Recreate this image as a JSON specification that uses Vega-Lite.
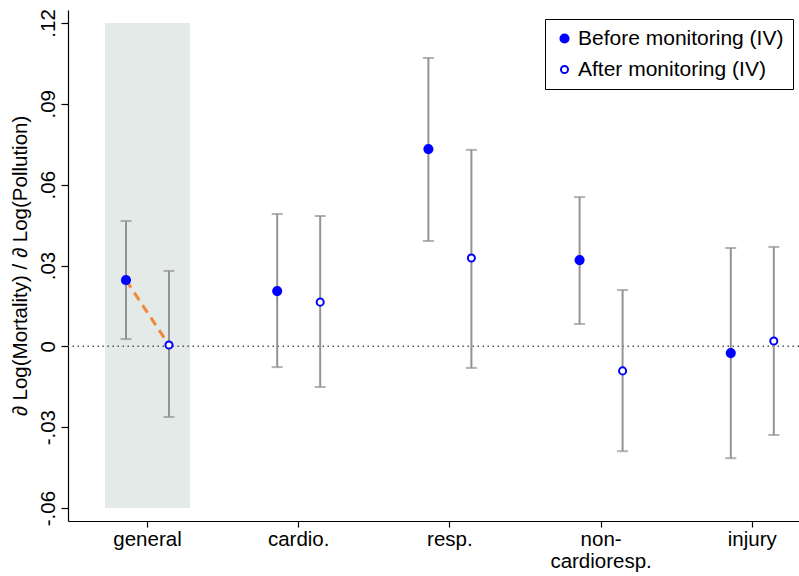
{
  "$schema": "https://vega.github.io/schema/vega-lite/v6.json",
  "width": 731,
  "height": 511,
  "autosize": {"type": "none"},
  "padding": {"left": 68, "top": 10, "right": 0, "bottom": 55},
  "background": "white",
  "config": {
    "view": {"stroke": null},
    "font": "Liberation Sans",
    "axis": {"grid": false, "domainColor": "black", "tickColor": "black", "labelColor": "black", "titleColor": "black", "labelFont": "Liberation Sans", "titleFont": "Liberation Sans", "domainWidth": 1.2, "tickWidth": 1.2}
  },
  "data": {
    "values": [
      {"cause": "general", "series": "Before monitoring (IV)", "est": 0.0246, "lo": 0.0027, "hi": 0.0465},
      {"cause": "general", "series": "After monitoring (IV)", "est": 0.0005, "lo": -0.0262, "hi": 0.028},
      {"cause": "cardio.", "series": "Before monitoring (IV)", "est": 0.0205, "lo": -0.0077, "hi": 0.0491},
      {"cause": "cardio.", "series": "After monitoring (IV)", "est": 0.0164, "lo": -0.0151, "hi": 0.0484},
      {"cause": "resp.", "series": "Before monitoring (IV)", "est": 0.0732, "lo": 0.0391, "hi": 0.107},
      {"cause": "resp.", "series": "After monitoring (IV)", "est": 0.0328, "lo": -0.008, "hi": 0.0729},
      {"cause": "non-cardioresp.", "series": "Before monitoring (IV)", "est": 0.032, "lo": 0.0083, "hi": 0.0554},
      {"cause": "non-cardioresp.", "series": "After monitoring (IV)", "est": -0.0091, "lo": -0.0389, "hi": 0.0209},
      {"cause": "injury", "series": "Before monitoring (IV)", "est": -0.0025, "lo": -0.0415, "hi": 0.0365},
      {"cause": "injury", "series": "After monitoring (IV)", "est": 0.002, "lo": -0.0329, "hi": 0.0369}
    ]
  },
  "layer": [
    {
      "data": {"values": [{}]},
      "mark": {"type": "rect", "color": "#e4eae8"},
      "encoding": {
        "x": {"datum": "general", "type": "nominal"},
        "y": {"datum": -0.06, "type": "quantitative"},
        "y2": {"datum": 0.12}
      }
    },
    {
      "data": {"values": [{}]},
      "mark": {"type": "rule", "strokeDash": [1.5, 3.5], "color": "#555555", "strokeWidth": 1.5},
      "encoding": {"y": {"datum": 0, "type": "quantitative"}}
    },
    {
      "mark": {"type": "rule", "color": "#939393", "strokeWidth": 2},
      "encoding": {
        "x": {
          "field": "cause", "type": "nominal",
          "sort": ["general", "cardio.", "resp.", "non-cardioresp.", "injury"],
          "scale": {"domain": ["general", "cardio.", "resp.", "non-cardioresp.", "injury"], "paddingInner": 0.4378, "paddingOuter": 0.1362, "align": 0.898},
          "axis": {
            "title": null, "labelAngle": 0, "labelAlign": "center", "labelBaseline": "top", "labelFontSize": 20.5, "tickSize": 6, "labelPadding": 2,
            "bandPosition": 0.5, "labelLineHeight": 22,
            "labelExpr": "datum.value == 'non-cardioresp.' ? ['non-', 'cardioresp.'] : datum.value"
          }
        },
        "xOffset": {
          "field": "series", "type": "nominal",
          "scale": {"domain": ["Before monitoring (IV)", "After monitoring (IV)"], "paddingInner": 0.5, "paddingOuter": 0.2384}
        },
        "y": {
          "field": "lo", "type": "quantitative",
          "scale": {"domain": [-0.0648, 0.1248], "nice": false, "zero": false},
          "axis": {
            "title": "∂ Log(Mortality) / ∂ Log(Pollution)",
            "values": [-0.06, -0.03, 0, 0.03, 0.06, 0.09, 0.12],
            "labelExpr": "datum.value == 0 ? '0' : (datum.value < 0 ? '-' : '') + replace(format(abs(datum.value), '.2f'), '0.', '.')",
            "labelAngle": -90, "labelAlign": "center", "labelBaseline": "bottom",
            "labelFontSize": 20.5, "titleFontSize": 20.5, "titleFontWeight": "normal",
            "tickSize": 7, "labelPadding": 3, "titlePadding": 8
          }
        },
        "y2": {"field": "hi"}
      }
    },
    {
      "mark": {"type": "tick", "color": "#939393", "size": 11, "thickness": 2},
      "encoding": {
        "x": {"field": "cause", "type": "nominal"},
        "xOffset": {"field": "series", "type": "nominal"},
        "y": {"field": "hi", "type": "quantitative"}
      }
    },
    {
      "mark": {"type": "tick", "color": "#939393", "size": 11, "thickness": 2},
      "encoding": {
        "x": {"field": "cause", "type": "nominal"},
        "xOffset": {"field": "series", "type": "nominal"},
        "y": {"field": "lo", "type": "quantitative"}
      }
    },
    {
      "transform": [{"filter": "datum.cause == 'general'"}],
      "mark": {"type": "line", "color": "#ef8a3c", "strokeWidth": 3, "strokeDash": [9, 6]},
      "encoding": {
        "x": {"field": "cause", "type": "nominal"},
        "xOffset": {"field": "series", "type": "nominal"},
        "y": {"field": "est", "type": "quantitative"}
      }
    },
    {
      "mark": {"type": "point", "filled": true, "strokeWidth": 2, "opacity": 1},
      "encoding": {
        "x": {"field": "cause", "type": "nominal"},
        "xOffset": {"field": "series", "type": "nominal"},
        "y": {"field": "est", "type": "quantitative"},
        "fill": {
          "field": "series", "type": "nominal",
          "scale": {"domain": ["Before monitoring (IV)", "After monitoring (IV)"], "range": ["#0000ff", "#ffffff"]},
          "legend": {
            "title": null, "orient": "none", "legendX": 477, "legendY": 9,
            "strokeColor": "black", "fillColor": "white", "padding": 9,
            "labelFontSize": 21, "labelColor": "black", "rowPadding": 9, "labelOffset": 3, "labelLimit": 400,
            "labelExpr": "datum.label + '\u00a0\u00a0\u00a0'",
            "symbolType": "circle", "symbolStrokeWidth": 2
          }
        },
        "stroke": {
          "field": "series", "type": "nominal",
          "scale": {"domain": ["Before monitoring (IV)", "After monitoring (IV)"], "range": ["#0000ff", "#0000ff"]},
          "legend": {
            "title": null, "orient": "none", "legendX": 477, "legendY": 9,
            "strokeColor": "black", "fillColor": "white", "padding": 9,
            "labelFontSize": 21, "labelColor": "black", "rowPadding": 9, "labelOffset": 3, "labelLimit": 400,
            "labelExpr": "datum.label + '\u00a0\u00a0\u00a0'",
            "symbolType": "circle", "symbolStrokeWidth": 2
          }
        },
        "size": {
          "field": "series", "type": "nominal",
          "scale": {"domain": ["Before monitoring (IV)", "After monitoring (IV)"], "range": [66, 50]},
          "legend": {
            "title": null, "orient": "none", "legendX": 477, "legendY": 9,
            "strokeColor": "black", "fillColor": "white", "padding": 9,
            "labelFontSize": 21, "labelColor": "black", "rowPadding": 9, "labelOffset": 3, "labelLimit": 400,
            "labelExpr": "datum.label + '\u00a0\u00a0\u00a0'",
            "symbolType": "circle", "symbolStrokeWidth": 2
          }
        }
      }
    }
  ]
}
